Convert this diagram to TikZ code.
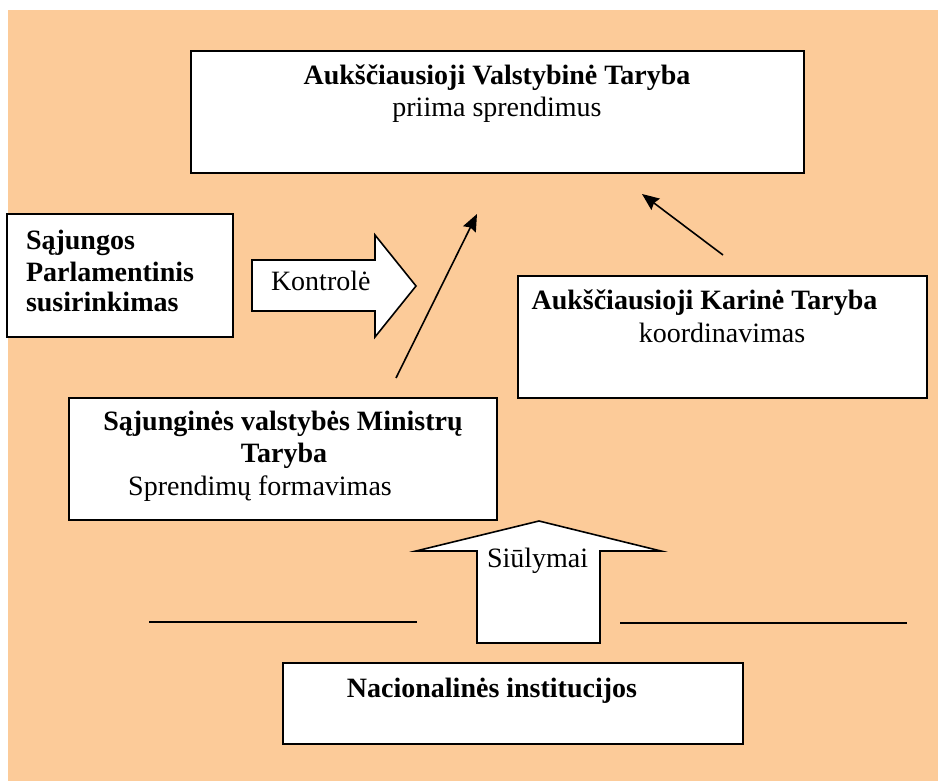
\documentclass[tikz,border=0pt]{standalone}
\usepackage{fontspec}
\setmainfont{Liberation Serif}
\usetikzlibrary{arrows.meta}
\definecolor{bgorange}{RGB}{252,203,153}
\tikzset{
  box/.style={draw=black, line width=1.6pt, fill=white, inner sep=0pt, outer sep=0pt},
  blockarrow/.style={draw=black, line width=1.6pt, fill=white, line join=miter},
  txt/.style={inner sep=0pt, outer sep=0pt, font=\fontsize{28}{32.5}\selectfont},
  btxt/.style={txt, font=\fontsize{28}{32.5}\selectfont\bfseries},
  conn/.style={draw=black, line width=1.6pt, -{Stealth[length=17pt,width=14pt,inset=2pt]}},
  rule/.style={draw=black, line width=1.5pt}
}
\begin{document}
\begin{tikzpicture}[x=1pt,y=-1pt]
\useasboundingbox (0,0) rectangle (938,781);
\fill[white] (0,0) rectangle (938,781);
\fill[bgorange] (8,10) rectangle (938,781);

% boxes
\node[box, minimum width=613pt, minimum height=122pt] (top) at (497.5,112) {};
\node[box, minimum width=226pt, minimum height=123pt] (parl) at (120,275.5) {};
\node[box, minimum width=409pt, minimum height=122pt] (karine) at (722.5,337) {};
\node[box, minimum width=428pt, minimum height=122pt] (min) at (283,459) {};
\node[box, minimum width=460pt, minimum height=81pt] (nac) at (513,703.5) {};

% texts
\node[btxt, anchor=base] (topA) at (497,85) {Aukščiausioji Valstybinė Taryba};
\node[txt, anchor=base] (topB) at (497,117) {priima sprendimus};

\node[btxt, anchor=base west] (parlA) at (26,250) {Sąjungos};
\node[btxt, anchor=base west] (parlB) at (26,281) {Parlamentinis};
\node[btxt, anchor=base west] (parlC) at (26,311) {susirinkimas};

\node[btxt, anchor=base] (karA) at (704.5,309) {Aukščiausioji Karinė Taryba};
\node[txt, anchor=base] (karB) at (722,342) {koordinavimas};

\node[btxt, anchor=base] (minA) at (283,430) {Sąjunginės valstybės Ministrų};
\node[btxt, anchor=base] (minB) at (284,462) {Taryba};
\node[txt, anchor=base] (minC) at (260,495) {Sprendimų formavimas};

\node[btxt, anchor=base] (nacA) at (492,697) {Nacionalinės institucijos};

% block arrows
\draw[blockarrow] (252,260) -- (375,260) -- (375,235) -- (416,286) -- (375,337) -- (375,311) -- (252,311) -- cycle;
\node[txt, anchor=base west] (kontrole) at (271,290) {Kontrolė};

\draw[blockarrow] (477,643) -- (477,551) -- (416,551) -- (539,521) -- (661,551) -- (600,551) -- (600,643) -- cycle;
\node[txt, anchor=base west] (siulymai) at (487,567) {Siūlymai};

% connectors
\coordinate (minout) at (396,378);
\coordinate (topin1) at (477,214);
\coordinate (karout) at (723,255);
\coordinate (topin2) at (642,194);
\draw[conn] (minout) -- (topin1);
\draw[conn] (karout) -- (topin2);

% horizontal rules
\coordinate (l1a) at (149,622);
\coordinate (l1b) at (417,622);
\coordinate (l2a) at (620,623);
\coordinate (l2b) at (907,623);
\draw[rule] (l1a) -- (l1b);
\draw[rule] (l2a) -- (l2b);
\end{tikzpicture}
\end{document}
